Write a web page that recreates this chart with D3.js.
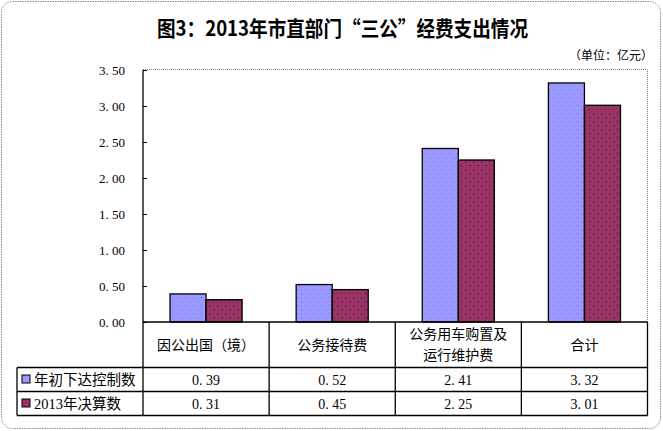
<!DOCTYPE html>
<html><head><meta charset="utf-8">
<script src="https://cdn.jsdelivr.net/npm/d3@7"></script>
<style>
html,body{margin:0;padding:0;background:#fff;}
svg{display:block;}
</style></head>
<body>
<svg id="chart" width="663" height="431"></svg>
<script>
const title = "图3：2013年市直部门“三公”经费支出情况";
const unitLabel = "（单位：亿元）";
const categories = ["因公出国（境）", "公务接待费", "公务用车购置及\n运行维护费", "合计"];
const seriesNames = ["年初下达控制数", "2013年决算数"];
const budget = [0.39, 0.52, 2.41, 3.32];
const actual = [0.31, 0.45, 2.25, 3.01];
const yTicks = [0, 0.5, 1, 1.5, 2, 2.5, 3, 3.5];

const svg = d3.select("#chart");
const serif = "'Liberation Serif','Noto Sans CJK SC',serif";
const cjk = "'Noto Sans CJK SC','Liberation Serif',sans-serif";
const fmt = v => d3.format(".2f")(v).replace(".", ". ");

const L = 143, R = 647.5, T = 70, B = 322;
const series = [budget, actual];
const colors = ["#9999FF", "#993366"];
const dotColors = ["#6f6fe6", "#3d0f26"];

// patterns
const defs = svg.append("defs");
colors.forEach((c, i) => {
  const p = defs.append("pattern").attr("id", "pat" + i)
    .attr("patternUnits", "userSpaceOnUse").attr("width", 8).attr("height", 8);
  p.append("rect").attr("width", 8).attr("height", 8).attr("fill", c);
  p.append("rect").attr("x", 1).attr("y", 1).attr("width", 1).attr("height", 1).attr("fill", dotColors[i]);
  p.append("rect").attr("x", 5).attr("y", 5).attr("width", 1).attr("height", 1).attr("fill", dotColors[i]);
});

// outer frame
svg.append("rect").attr("x", 1.5).attr("y", 1.5).attr("width", 659).attr("height", 427)
  .attr("rx", 11).attr("fill", "#fff").attr("stroke", "#8a8a8a").attr("stroke-dasharray", "1.5,1");

// title
svg.append("text").attr("x", 157).attr("y", 35.5).text(title)
  .attr("font-family", cjk).attr("font-weight", "bold").attr("font-size", 21)
  .attr("textLength", 371).attr("lengthAdjust", "spacingAndGlyphs").attr("fill", "#000");

svg.append("text").attr("x", 653).attr("y", 60).attr("text-anchor", "end").text(unitLabel)
  .attr("font-family", cjk).attr("font-size", 12).attr("fill", "#000");

const x = d3.scaleBand().domain(categories).range([L, R]);
const xs = d3.scaleBand().domain([0, 1]).range([0, x.bandwidth()]).paddingInner(0).paddingOuter(0.75);
const y = d3.scaleLinear().domain([0, 3.5]).range([B, T]);

// plot area dotted border (top & right)
svg.append("path").attr("d", `M${L},${T - 0.5}H${R}V${B}`)
  .attr("fill", "none").attr("stroke", "#808080").attr("stroke-dasharray", "1,1");

// bars
series.forEach((vals, si) => {
  svg.append("g").selectAll("rect").data(vals).join("rect")
    .attr("x", (d, i) => x(categories[i]) + xs(si))
    .attr("y", d => y(d))
    .attr("width", xs.bandwidth())
    .attr("height", d => y(0) - y(d))
    .attr("fill", `url(#pat${si})`)
    .attr("stroke", "#000").attr("stroke-width", 1.3);
});

// y axis
const yAxis = d3.axisLeft(y).tickValues(yTicks).tickSize(-4).tickPadding(18).tickFormat(fmt);
const ga = svg.append("g").attr("transform", `translate(${L},0)`).call(yAxis);
ga.select(".domain").attr("stroke", "#000").attr("stroke-width", 1.3).attr("d", `M0,${T}V${B}`);
ga.selectAll(".tick line").attr("stroke", "#000");
ga.selectAll(".tick text").attr("font-family", serif).attr("font-size", 13).attr("fill", "#000");

// table
const rowTop = B, hdrBot = 367.5, r1 = 391.5, r2 = 415.5, tL = 17;
const tbl = svg.append("g").attr("stroke", "#000").attr("stroke-width", 1.3);
tbl.append("line").attr("x1", L).attr("x2", R).attr("y1", B).attr("y2", B);
tbl.append("line").attr("x1", tL).attr("x2", R).attr("y1", hdrBot).attr("y2", hdrBot);
tbl.append("line").attr("x1", tL).attr("x2", R).attr("y1", r1).attr("y2", r1);
tbl.append("line").attr("x1", tL).attr("x2", R).attr("y1", r2).attr("y2", r2);
tbl.append("line").attr("x1", tL).attr("x2", tL).attr("y1", hdrBot).attr("y2", r2);
tbl.selectAll(".vl").data(categories.concat([null])).join("line")
  .attr("x1", d => d === null ? R : x(d)).attr("x2", d => d === null ? R : x(d))
  .attr("y1", rowTop).attr("y2", r2);

// header labels
categories.forEach(c => {
  const lines = c.split("\n");
  const cy = (rowTop + hdrBot) / 2;
  lines.forEach((ln, k) => {
    svg.append("text").attr("x", x(c) + x.bandwidth() / 2)
      .attr("y", cy + (k - (lines.length - 1) / 2) * 21 + 5)
      .attr("text-anchor", "middle").text(ln)
      .attr("font-family", cjk).attr("font-size", 14).attr("fill", "#000");
  });
});

// data rows
const rowsY = [(hdrBot + r1) / 2, (r1 + r2) / 2];
series.forEach((vals, si) => {
  svg.append("rect").attr("x", 22).attr("y", rowsY[si] - 4.5).attr("width", 8).attr("height", 8)
    .attr("fill", colors[si]).attr("stroke", "#000").attr("stroke-width", 1);
  svg.append("text").attr("x", 34).attr("y", rowsY[si] + 5).text(seriesNames[si])
    .attr("font-family", serif).attr("font-size", 14.5).attr("fill", "#000");
  vals.forEach((v, i) => {
    svg.append("text").attr("x", x(categories[i]) + x.bandwidth() / 2).attr("y", rowsY[si] + 5)
      .attr("text-anchor", "middle").text(fmt(v))
      .attr("font-family", serif).attr("font-size", 14).attr("fill", "#000");
  });
});
</script>
</body></html>
